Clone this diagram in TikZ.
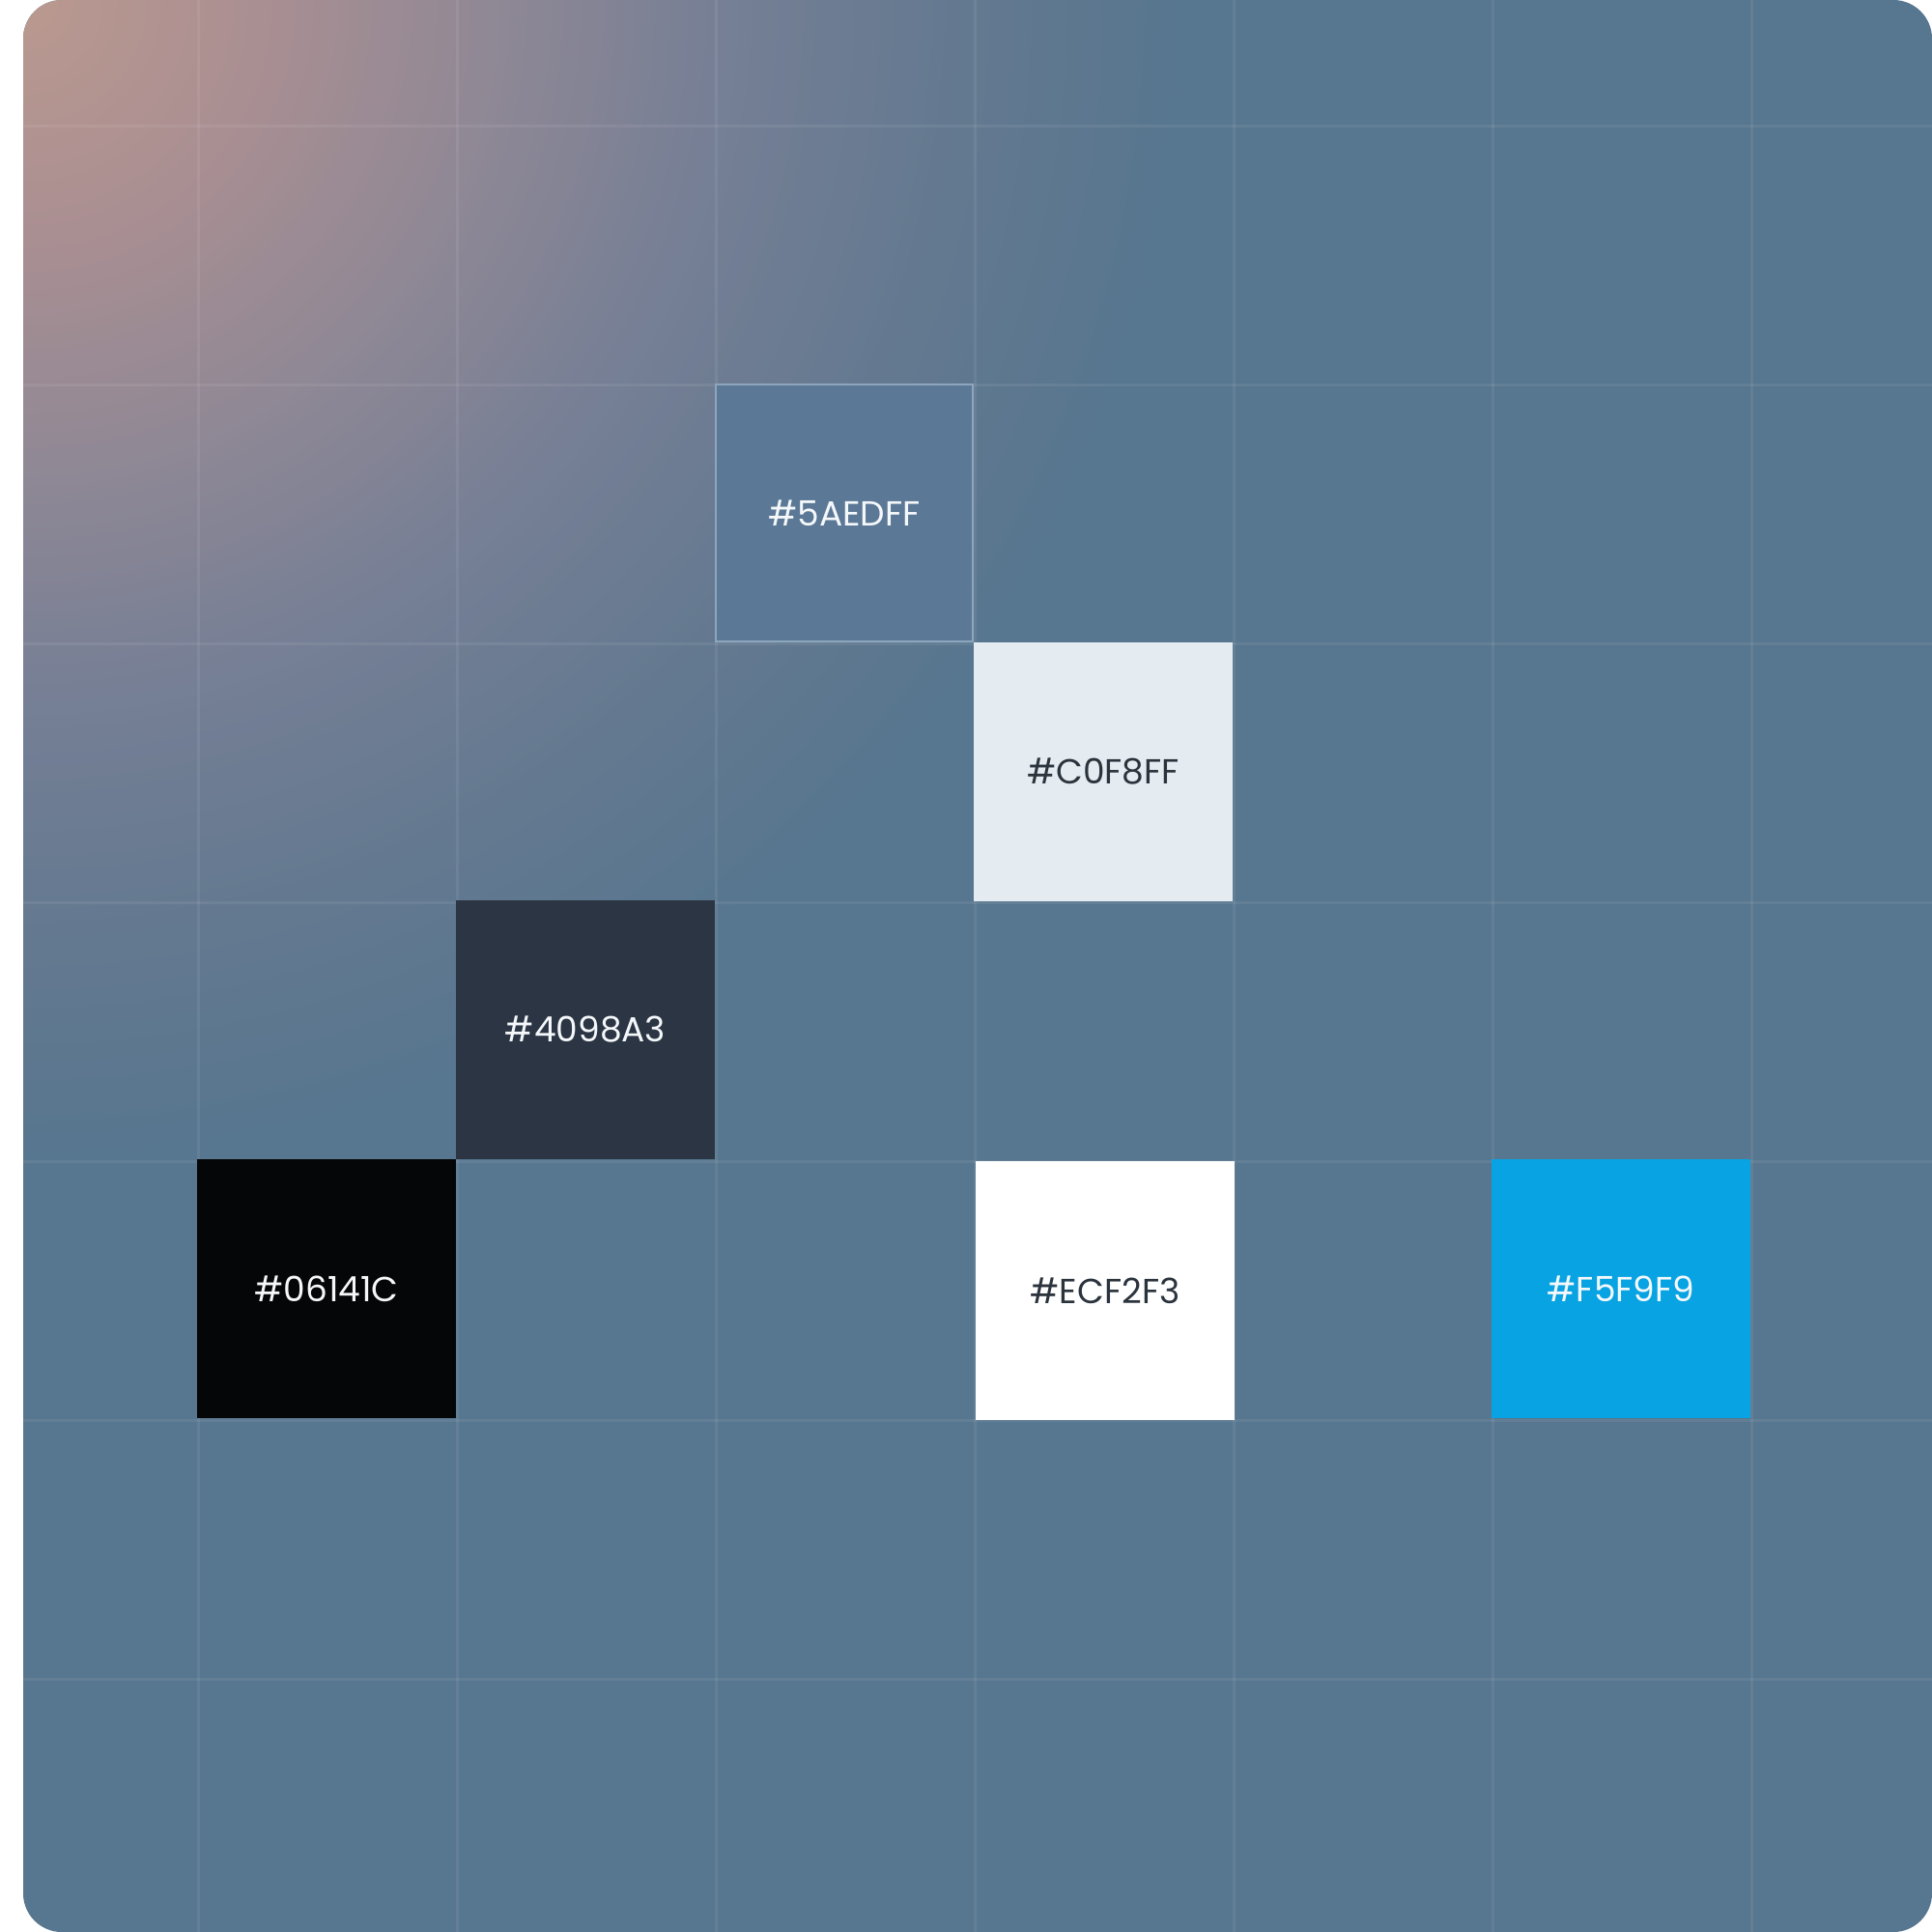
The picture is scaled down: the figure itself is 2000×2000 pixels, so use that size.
\documentclass[tikz,border=0pt]{standalone}
\usepackage{fontspec}
\newfontfamily\lblfont{Poppins}
\definecolor{base}{HTML}{57768F}
\definecolor{g0}{HTML}{BA998F}
\definecolor{g1}{HTML}{AA8F92}
\definecolor{g2}{HTML}{908895}
\definecolor{g3}{HTML}{767F95}
\definecolor{g4}{HTML}{647990}
\definecolor{boxA}{HTML}{5B7896}
\definecolor{boxAline}{HTML}{8DA6BE}
\definecolor{boxB}{HTML}{E4ECF1}
\definecolor{boxC}{HTML}{2B3543}
\definecolor{boxD}{HTML}{050608}
\definecolor{boxE}{HTML}{FFFFFF}
\definecolor{boxF}{HTML}{07A3E3}
\definecolor{txtdark}{HTML}{2B333D}
\definecolor{txtlight}{HTML}{F5F8FA}
\pgfdeclareradialshading{glow}{\pgfpoint{0bp}{0bp}}{%
  color(0bp)=(g0); color(5bp)=(g1); color(10bp)=(g2); color(15bp)=(g3);
  color(20bp)=(g4); color(25bp)=(base); color(50bp)=(base)}
\tikzset{
  swatch/.style={minimum width=268bp, minimum height=268bp, inner sep=0pt, outer sep=0pt,
    font=\lblfont\fontsize{36bp}{40bp}\selectfont, anchor=north west},
  gridline/.style={white, opacity=0.07, line width=3bp},
}
\begin{document}
\begin{tikzpicture}[x=1bp,y=-1bp]
\useasboundingbox (0,0) rectangle (2000,2000);
\fill[white] (0,0) rectangle (2000,2000);
\begin{scope}
  \clip[rounded corners=40bp] (24,0) rectangle (2000,2000);
  \fill[base] (0,0) rectangle (2000,2000);
  \shade[shading=glow] (24,0) circle (1200);
  \foreach \x in {205,473,741,1009,1277,1545,1813}
    \draw[gridline] (\x,0) -- (\x,2000);
  \foreach \y in {130,398,666,934,1202,1470,1738}
    \draw[gridline] (24,\y) -- (2000,\y);
\end{scope}
\node[swatch, fill=boxA, draw=boxAline, line width=2bp, minimum width=266bp, minimum height=266bp, text=txtlight] (a) at (741,398) {\#5AEDFF};
\node[swatch, fill=boxB, text=txtdark] (b) at (1008,665) {\#C0F8FF};
\node[swatch, fill=boxC, text=txtlight] (c) at (472,932) {\#4098A3};
\node[swatch, fill=boxD, text=txtlight] (d) at (204,1200) {\#06141C};
\node[swatch, fill=boxE, text=txtdark] (e) at (1010,1202) {\#ECF2F3};
\node[swatch, fill=boxF, text=txtlight] (f) at (1544,1200) {\#F5F9F9};
\end{tikzpicture}
\end{document}
